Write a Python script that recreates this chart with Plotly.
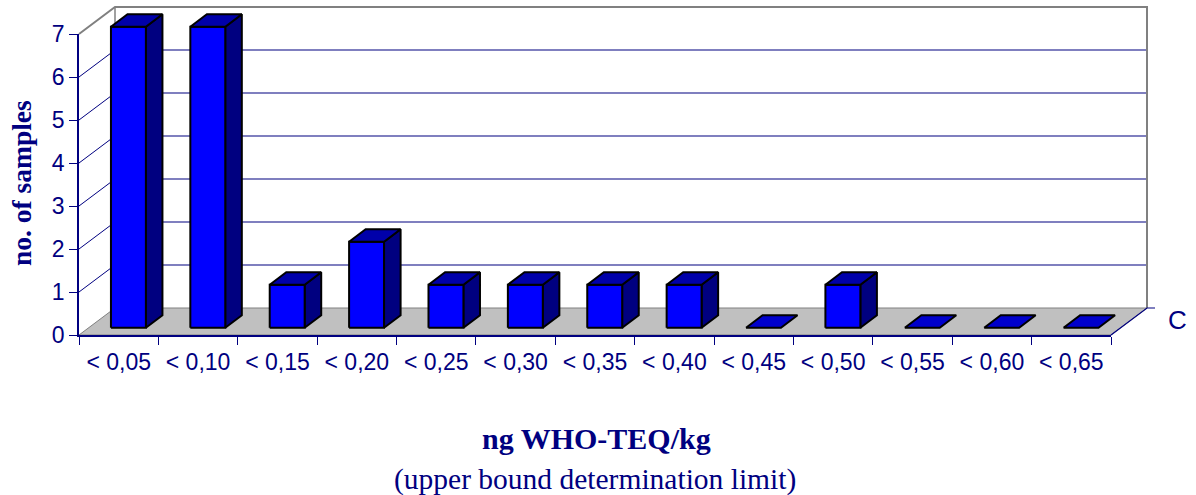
import plotly.graph_objects as go

# ---- data ----
categories = ["< 0,05", "< 0,10", "< 0,15", "< 0,20", "< 0,25", "< 0,30", "< 0,35",
              "< 0,40", "< 0,45", "< 0,50", "< 0,55", "< 0,60", "< 0,65"]
counts = [7, 7, 1, 2, 1, 1, 1, 1, 0, 1, 0, 0, 0]
y_ticks = [0, 1, 2, 3, 4, 5, 6, 7]
x_title = "ng WHO-TEQ/kg"
x_subtitle = "(upper bound determination limit)"
y_title = "no. of samples"
depth_label = "C"

# ---- page / plot geometry (pixels) ----
W, H = 1196, 495
FRONT_LEFT, FRONT_RIGHT = 79, 1111      # front plane, horizontal extent
FRONT_BOTTOM, FRONT_TOP = 335, 34       # front plane, vertical extent
DEPTH_PX_X, DEPTH_PX_Y = 36, 27         # oblique depth offset of the back wall
Y_MAX = 7

n = len(categories)
px_per_cat = (FRONT_RIGHT - FRONT_LEFT) / n
px_per_val = (FRONT_BOTTOM - FRONT_TOP) / Y_MAX

# drawing axes span the whole page, in category / value units
x_rng = [-0.5 - FRONT_LEFT / px_per_cat, -0.5 + (W - FRONT_LEFT) / px_per_cat]
y_rng = [-(H - FRONT_BOTTOM) / px_per_val, FRONT_BOTTOM / px_per_val]

DX = DEPTH_PX_X / px_per_cat            # depth vector in data units
DY = DEPTH_PX_Y / px_per_val
X0, X1 = -0.5, n - 0.5

NAVY = "#000080"
GRAY = "#808080"
FLOOR = "#C0C0C0"
FACE_FRONT = "#0000FF"
FACE_SIDE = "#000080"
FACE_TOP = "#0000AA"
FACE_FLAT = "#0000CC"

fig = go.Figure()


def poly(xs, ys, fill, line_color="black", width=2):
    fig.add_trace(go.Scatter(
        x=list(xs) + [xs[0]], y=list(ys) + [ys[0]], mode="lines", fill="toself",
        fillcolor=fill, line=dict(color=line_color, width=width),
        hoverinfo="skip", showlegend=False, xaxis="x", yaxis="y"))


def seg(xs, ys, color, width=1.2):
    fig.add_trace(go.Scatter(
        x=xs, y=ys, mode="lines", line=dict(color=color, width=width),
        hoverinfo="skip", showlegend=False, xaxis="x", yaxis="y"))


# floor
poly([X0, X1, X1 + DX, X0 + DX], [0, 0, DY, DY], FLOOR, GRAY, 1)

# walls: gridlines on left and back walls
for k in y_ticks[1:-1]:
    seg([X0, X0 + DX], [k, k + DY], NAVY, 1)
    seg([X0 + DX, X1 + DX], [k + DY, k + DY], NAVY, 1.2)

# wall outlines
seg([X0, X0 + DX, X1 + DX, X1 + DX], [Y_MAX, Y_MAX + DY, Y_MAX + DY, DY], GRAY, 2)
seg([X0 + DX, X0 + DX], [DY, Y_MAX + DY], GRAY, 1.5)

# depth axis with its single tick
tick = 8 / px_per_cat
seg([X1, X1 + DX, X1 + DX + tick], [0, DY, DY], NAVY, 1.2)

# 3D bars
F1, F2 = 0.27, 0.73       # front / back depth fractions of a bar
HW = 0.22                 # half bar width in category units
for i, v in enumerate(counts):
    xl = i - HW + F1 * DX
    xr = i + HW + F1 * DX
    yb = F1 * DY
    ddx = (F2 - F1) * DX
    ddy = (F2 - F1) * DY
    if v > 0:
        poly([xr, xr + ddx, xr + ddx, xr], [yb, yb + ddy, yb + v + ddy, yb + v], FACE_SIDE)
        poly([xl, xr, xr, xl], [yb, yb, yb + v, yb + v], FACE_FRONT)
        poly([xl, xr, xr + ddx, xl + ddx], [yb + v, yb + v, yb + v + ddy, yb + v + ddy], FACE_TOP)
    else:
        poly([xl, xr, xr + ddx, xl + ddx], [yb, yb, yb + ddy, yb + ddy], FACE_FLAT)

# front axes carry the ticks and labels
fig.add_trace(go.Scatter(
    x=categories, y=counts, mode="markers", marker=dict(opacity=0),
    hoverinfo="skip", showlegend=False, xaxis="x2", yaxis="y2"))

tick_font = dict(family="Liberation Sans, Arial, sans-serif", size=23, color=NAVY)
serif = "Liberation Serif, Times New Roman, serif"

fig.update_layout(
    width=W, height=H, showlegend=False,
    margin=dict(l=0, r=0, t=0, b=0, pad=0, autoexpand=False),
    paper_bgcolor="white", plot_bgcolor="rgba(0,0,0,0)",
    xaxis=dict(domain=[0, 1], range=x_rng, visible=False, fixedrange=True, automargin=False),
    yaxis=dict(domain=[0, 1], range=y_rng, visible=False, fixedrange=True, automargin=False),
    xaxis2=dict(
        domain=[FRONT_LEFT / W, FRONT_RIGHT / W], anchor="y2", automargin=False,
        type="category", categoryorder="array", categoryarray=categories,
        range=[X0, X1], tickson="boundaries", ticks="outside", ticklen=8,
        tickwidth=1.2, tickcolor=NAVY, showline=True, linecolor=NAVY, linewidth=1.5,
        showgrid=False, zeroline=False, tickfont=tick_font, ticklabelstandoff=6),
    yaxis2=dict(
        domain=[(H - FRONT_BOTTOM) / H, (H - FRONT_TOP) / H], anchor="x2", automargin=False,
        range=[0, Y_MAX], tickvals=y_ticks, ticks="outside", ticklen=8,
        tickwidth=1.2, tickcolor=NAVY, showline=True, linecolor=NAVY, linewidth=1.5,
        showgrid=False, zeroline=False, tickfont=tick_font),
    annotations=[
        dict(text="<b>" + x_title + "</b>", xref="paper", yref="paper",
             x=596 / W, y=1 - 438 / H,
             xanchor="center", yanchor="middle", showarrow=False,
             font=dict(family=serif, size=30, color=NAVY)),
        dict(text=x_subtitle, xref="paper", yref="paper",
             x=595 / W, y=1 - 479 / H,
             xanchor="center", yanchor="middle", showarrow=False,
             font=dict(family=serif, size=29.5, color=NAVY)),
        dict(text="<b>" + y_title + "</b>", xref="paper", yref="paper",
             x=22 / W, y=1 - 183 / H, textangle=-90,
             xanchor="center", yanchor="middle", showarrow=False,
             font=dict(family=serif, size=27.5, color=NAVY)),
        dict(text=depth_label, xref="x", yref="y", x=X1 + DX + tick, y=DY,
             xanchor="left", yanchor="middle", xshift=11, yshift=-12, showarrow=False,
             font=dict(family="Liberation Sans, Arial, sans-serif", size=26, color=NAVY)),
    ],
)

fig.write_html("out.html")
